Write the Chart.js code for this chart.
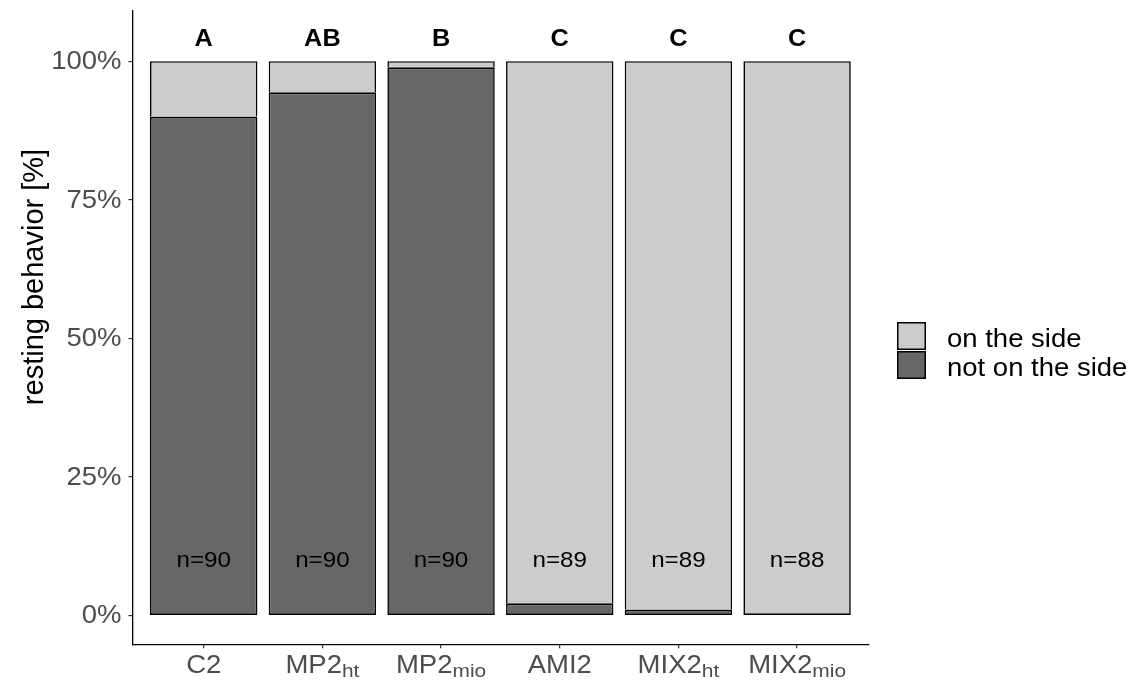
<!DOCTYPE html>
<html>
<head>
<meta charset="utf-8">
<script src="https://cdn.jsdelivr.net/npm/chart.js@4.4.1/dist/chart.umd.min.js"></script>
<style>
  html, body { margin: 0; padding: 0; background: #fff; }
  #wrap { width: 1136px; height: 682px; }
</style>
</head>
<body>
<div id="wrap"><canvas id="chart" width="1136" height="682"></canvas></div>
<script>
// ---- data ----
const groupNames = ['C2', 'MP2', 'MP2', 'AMI2', 'MIX2', 'MIX2'];
const groupSubs = ['', 'ht', 'mio', '', 'ht', 'mio'];
const notOnSide = [90.0, 94.4, 98.9, 2.2, 1.1, 0.0];
const onSide = [10.0, 5.6, 1.1, 97.8, 98.9, 100.0];
const sampleSizes = [90, 90, 90, 89, 89, 88];
const letters = ['A', 'AB', 'B', 'C', 'C', 'C'];
const yTicks = [0, 25, 50, 75, 100];

const LIGHT = '#cccccc';
const DARK = '#666666';
const FONT = '"Liberation Sans", Arial, sans-serif';
const SX = 1.1; // the reference text is a little wide

function wideText(ctx, txt, x, y, align) {
  ctx.save();
  ctx.translate(x, y);
  ctx.scale(SX, 1);
  ctx.textAlign = align;
  ctx.fillText(txt, 0, 0);
  ctx.restore();
}

const textPlugin = {
  id: 'textPlugin',
  afterDraw(chart) {
    const ctx = chart.ctx;
    const xs = chart.scales.x, ys = chart.scales.y;

    // y tick labels
    ctx.fillStyle = '#4d4d4d';
    ctx.font = '25px ' + FONT;
    ctx.textBaseline = 'middle';
    yTicks.forEach(v => wideText(ctx, v + '%', 121.5, ys.getPixelForValue(v) + 1, 'right'));

    // x tick labels with subscripts
    ctx.textBaseline = 'alphabetic';
    groupNames.forEach((name, i) => {
      const cx = xs.getPixelForValue(i);
      ctx.font = '25px ' + FONT;
      const wm = ctx.measureText(name).width * SX;
      ctx.font = '19px ' + FONT;
      const wsub = groupSubs[i] ? ctx.measureText(groupSubs[i]).width * SX : 0;
      const x0 = cx - (wm + wsub) / 2;
      ctx.font = '25px ' + FONT;
      wideText(ctx, name, x0, 673, 'left');
      if (groupSubs[i]) {
        ctx.font = '19px ' + FONT;
        wideText(ctx, groupSubs[i], x0 + wm, 677, 'left');
      }
    });

    // significance letters and n labels
    ctx.fillStyle = '#000';
    ctx.textBaseline = 'middle';
    letters.forEach((l, i) => {
      ctx.font = 'bold 23px ' + FONT;
      wideText(ctx, l, xs.getPixelForValue(i), ys.getPixelForValue(104) + 1, 'center');
    });
    sampleSizes.forEach((n, i) => {
      ctx.font = '22px ' + FONT;
      wideText(ctx, 'n=' + n, xs.getPixelForValue(i), ys.getPixelForValue(10) + 1, 'center');
    });

    // y axis title
    ctx.save();
    ctx.translate(35, 277);
    ctx.rotate(-Math.PI / 2);
    ctx.font = '29px ' + FONT;
    ctx.textAlign = 'center';
    ctx.textBaseline = 'middle';
    ctx.fillStyle = '#000';
    ctx.fillText('resting behavior [%]', 0, 0);
    ctx.restore();

    // legend (light key first, like the reference)
    const items = [chart.data.datasets[1], chart.data.datasets[0]];
    items.forEach((ds, k) => {
      const top = 322 + k * 29;
      ctx.fillStyle = ds.backgroundColor;
      ctx.fillRect(897, top, 29, 28);
      ctx.strokeStyle = '#000';
      ctx.lineWidth = 1.5;
      ctx.strokeRect(897.75, top + 0.75, 27.5, 26.5);
      ctx.fillStyle = '#000';
      ctx.font = '25px ' + FONT;
      ctx.textBaseline = 'alphabetic';
      wideText(ctx, ds.label, 947, top + 25, 'left');
    });
  }
};

new Chart(document.getElementById('chart'), {
  type: 'bar',
  data: {
    datasets: [
      {
        label: 'not on the side', data: notOnSide.map((v, i) => ({ x: i, y: v })), backgroundColor: DARK,
        borderWidth: { left: 1.6, right: 1.6, bottom: 1.6, top: 2 }
      },
      {
        label: 'on the side', data: onSide.map((v, i) => ({ x: i, y: v })), backgroundColor: LIGHT,
        // the dark segment draws the shared edge; close the bar when it is empty
        borderWidth: c => ({ left: 1.6, right: 1.6, top: 1.6, bottom: notOnSide[c.dataIndex] > 0 ? 0 : 1.6 })
      }
    ]
  },
  options: {
    responsive: false,
    animation: false,
    devicePixelRatio: 1,
    layout: { padding: { top: 7, right: 267.7, left: 0, bottom: 0 } },
    datasets: {
      bar: { borderColor: '#000', borderSkipped: false, inflateAmount: 0, barPercentage: 0.905, categoryPercentage: 1 }
    },
    plugins: { legend: { display: false }, tooltip: { enabled: false } },
    scales: {
      x: {
        type: 'linear', stacked: true, min: -0.6, max: 5.6, offset: false,
        afterBuildTicks: a => { a.ticks = groupNames.map((_, i) => ({ value: i })); },
        afterFit: s => { s.height = 682 - 644.3; },
        ticks: { callback: () => '' },
        grid: { offset: false, drawOnChartArea: false, drawTicks: true, tickLength: 4, color: '#333', lineWidth: 1.2 },
        border: { display: true, color: '#000', width: 1.3 }
      },
      y: {
        stacked: true, min: -5.2, max: 109.2,
        afterBuildTicks: a => { a.ticks = yTicks.map(v => ({ value: v })); },
        afterFit: s => { s.width = 132.5; },
        ticks: { callback: () => '' },
        grid: { drawOnChartArea: false, drawTicks: true, tickLength: 4, color: '#333', lineWidth: 1.2 },
        border: { display: true, color: '#000', width: 1.3 }
      }
    }
  },
  plugins: [textPlugin]
});
</script>
</body>
</html>
